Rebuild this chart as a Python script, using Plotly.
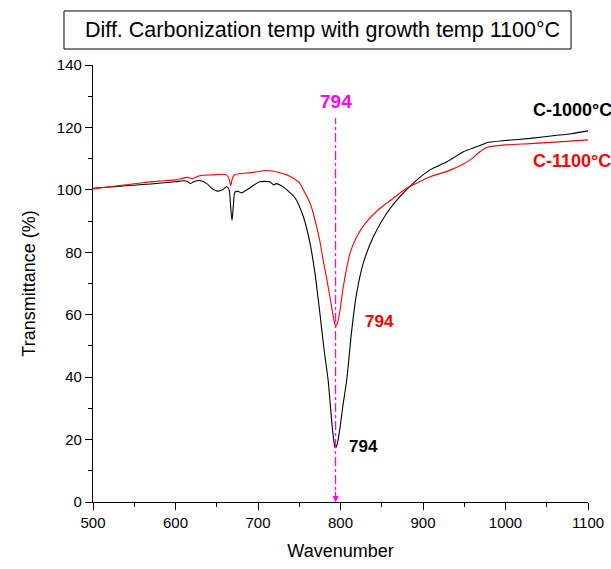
import plotly.graph_objects as go

# FTIR transmittance spectra, carbonized at 1000 °C and 1100 °C (growth 1100 °C)
wn_c1000 = [500, 520, 540, 560, 580, 600, 610, 615, 618, 622, 630, 638, 645, 651, 657,
            662, 665, 667, 668.5, 670, 672, 676, 680, 690, 702, 714, 719, 722, 728, 735,
            745, 755, 763, 769, 775, 780, 785, 790, 793, 794, 796, 799, 803, 807.5, 813.6,
            819.6, 827.6, 839.8, 856, 872, 888, 908.5, 929, 949, 965, 972, 977, 1000, 1030,
            1060, 1080, 1100]
t_c1000 = [100.5, 100.9, 101.3, 101.7, 102.1, 102.6, 102.9, 102.6, 102.0, 102.6, 103.0, 102.0,
           100.3, 99.6, 100.0, 101.0, 100.0, 94.0, 90.2, 94.5, 99.3, 99.5, 99.0, 100.6, 102.6,
           102.6, 101.6, 102.0, 101.4, 100.0, 97.4, 91.4, 83.0, 73.4, 60.5, 49.0, 39.0, 24.0,
           17.8, 17.4, 18.5, 23.0, 31.0, 39.0, 55.0, 66.9, 76.5, 85.0, 92.5, 97.8, 102.1, 106.4,
           109.0, 112.2, 113.8, 114.5, 115.1, 115.8, 116.5, 117.4, 118.0, 118.9]

wn_c1100 = [500, 520, 540, 560, 580, 600, 615, 620, 630, 645, 655, 662, 665, 667, 669, 672,
            680, 694, 710, 727, 735, 743, 750, 755, 760, 763, 767, 771, 775, 779, 783.6, 787,
            790.5, 793, 794.5, 796.5, 799.4, 802, 805.5, 811.5, 819.6, 831.7, 848, 864, 880,
            892, 908.5, 930, 949, 957, 969, 977, 1000, 1030, 1060, 1100]
t_c1100 = [100.3, 101.0, 101.6, 102.3, 102.8, 103.2, 104.0, 103.6, 104.6, 104.8, 105.0, 104.8,
           103.5, 101.4, 103.8, 104.9, 105.2, 105.6, 106.2, 105.5, 104.8, 103.7, 102.3, 100.0,
           97.5, 95.8, 92.5, 88.2, 83.5, 77.5, 71.0, 66.0, 60.5, 57.2, 56.4, 57.5, 61.5, 66.5,
           72.2, 79.7, 85.0, 89.8, 94.1, 97.3, 100.5, 102.1, 104.2, 106.0, 108.3, 109.6, 112.2,
           113.6, 114.4, 114.8, 115.3, 116.0]

peak_wn = 794
peak_c1000 = 17.4
peak_c1100 = 56.4

x_ticks = [500, 600, 700, 800, 900, 1000, 1100]
y_ticks = [0, 20, 40, 60, 80, 100, 120, 140]

SANS = "Liberation Sans, Arial, sans-serif"

fig = go.Figure()
fig.add_trace(go.Scatter(x=wn_c1000, y=t_c1000, mode="lines", name="C-1000°C",
                         line=dict(color="black", width=1.1, shape="spline", smoothing=0.6)))
fig.add_trace(go.Scatter(x=wn_c1100, y=t_c1100, mode="lines", name="C-1100°C",
                         line=dict(color="#ff0000", width=1.1, shape="spline", smoothing=0.6)))

# vertical dash-dot marker at the common peak position
fig.add_shape(type="line", xref="x", yref="y", x0=peak_wn, x1=peak_wn, y0=0, y1=123,
              line=dict(color="#ff00ff", width=1.3, dash="dashdot"), layer="above")
fig.add_annotation(x=peak_wn, y=0, xref="x", yref="y", text="", showarrow=True,
                   ax=0, ay=-12, arrowhead=2, arrowsize=1.2, arrowwidth=1,
                   arrowcolor="#ff00ff", standoff=0)

fig.add_annotation(x=peak_wn, y=128.2, xref="x", yref="y", text=f"<b>{peak_wn}</b>",
                   showarrow=False, font=dict(family=SANS, size=19, color="#ff00ff"))
fig.add_annotation(x=827.3, y=peak_c1100 + 1.3, xref="x", yref="y", text=f"<b>{peak_wn}</b>",
                   showarrow=False, xanchor="left",
                   font=dict(family=SANS, size=17, color="#ff0000"))
fig.add_annotation(x=807.9, y=peak_c1000 + 0.5, xref="x", yref="y", text=f"<b>{peak_wn}</b>",
                   showarrow=False, xanchor="left",
                   font=dict(family=SANS, size=17, color="black"))
fig.add_annotation(x=1030.9, y=125.6, xref="x", yref="y", text="<b>C-1000°C</b>",
                   showarrow=False, xanchor="left",
                   font=dict(family=SANS, size=18, color="black"))
fig.add_annotation(x=1030.9, y=109.3, xref="x", yref="y", text="<b>C-1100°C</b>",
                   showarrow=False, xanchor="left",
                   font=dict(family=SANS, size=18, color="#ff0000"))

# framed title
fig.add_shape(type="rect", xref="paper", yref="paper",
              x0=-0.0586, x1=0.9657, y0=1.0366, y1=1.1236,
              line=dict(color="black", width=1), fillcolor="white", layer="below")
fig.add_annotation(x=0.4646, y=1.080, xref="paper", yref="paper",
                   text="Diff. Carbonization temp with growth temp 1100°C",
                   showarrow=False, xanchor="center", yanchor="middle",
                   font=dict(family=SANS, size=21.5, color="black"))

axis_common = dict(showline=True, linecolor="black", linewidth=1.3, ticks="outside",
                   ticklen=7, tickwidth=1.2, tickcolor="black", showgrid=False,
                   zeroline=False, mirror=False, automargin=False,
                   tickfont=dict(family=SANS, size=15, color="black"))

fig.update_xaxes(range=[500, 1100], tickvals=x_ticks,
                 minor=dict(dtick=50, ticks="outside", ticklen=4, tickcolor="black",
                            tickwidth=1.2),
                 title=dict(text="Wavenumber", font=dict(family=SANS, size=18, color="black"),
                            standoff=14),
                 **axis_common)
fig.update_yaxes(range=[0, 140], tickvals=y_ticks,
                 minor=dict(dtick=10, ticks="outside", ticklen=4, tickcolor="black",
                            tickwidth=1.2),
                 title=dict(text="Transmittance (%)",
                            font=dict(family=SANS, size=18, color="black"), standoff=16),
                 **axis_common)

fig.update_layout(width=611, height=569, showlegend=False,
                  plot_bgcolor="white", paper_bgcolor="white",
                  margin=dict(l=93, r=23, t=65, b=67))

fig.write_html("out.html")
